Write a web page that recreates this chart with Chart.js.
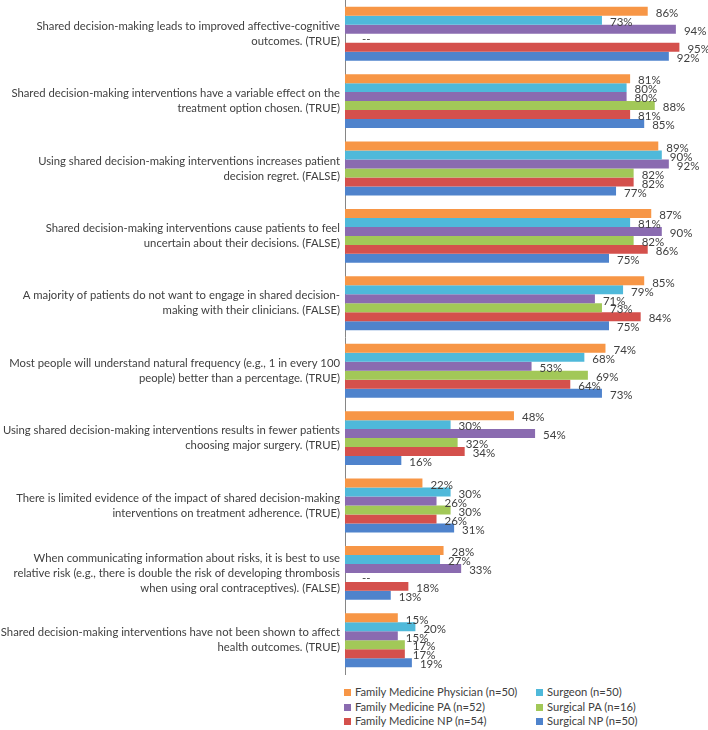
<!DOCTYPE html>
<html>
<head>
<meta charset="utf-8">
<script src="https://cdn.jsdelivr.net/npm/chart.js@4.4.1/dist/chart.umd.min.js"></script>
<style>
  html, body { margin: 0; padding: 0; background: #fff; }
  #wrap { position: relative; width: 708px; height: 677px; }
  #legend {
    position: absolute; left: 344px; top: 685px;
    display: grid; grid-template-columns: 192px 170px;
    font-family: Lato, "Open Sans", sans-serif; font-size: 11.2px; color: #404040;
  }
  #legend div { height: 14.5px; line-height: 14.5px; white-space: nowrap; }
  #legend span.box { display: inline-block; width: 7px; height: 7px; margin-right: 4px; vertical-align: 0px; }
</style>
</head>
<body>
<div id="wrap"><canvas id="chart"></canvas></div>
<div id="legend"></div>
<script>
// statements (y-axis categories), line breaks as in the figure
const statements = [
  ['Shared decision-making leads to improved affective-cognitive', 'outcomes. (TRUE)'],
  ['Shared decision-making interventions have a variable effect on the', 'treatment option chosen. (TRUE)'],
  ['Using shared decision-making interventions increases patient', 'decision regret. (FALSE)'],
  ['Shared decision-making interventions cause patients to feel', 'uncertain about their decisions. (FALSE)'],
  ['A majority of patients do not want to engage in shared decision-', 'making with their clinicians. (FALSE)'],
  ['Most people will understand natural frequency (e.g., 1 in every 100', 'people) better than a percentage. (TRUE)'],
  ['Using shared decision-making interventions results in fewer patients', 'choosing major surgery. (TRUE)'],
  ['There is limited evidence of the impact of shared decision-making', 'interventions on treatment adherence. (TRUE)'],
  ['When communicating information about risks, it is best to use', 'relative risk (e.g., there is double the risk of developing thrombosis', 'when using oral contraceptives). (FALSE)'],
  ['Shared decision-making interventions have not been shown to affect', 'health outcomes. (TRUE)']
];

const groupNames = [
  'Family Medicine Physician (n=50)',
  'Surgeon (n=50)',
  'Family Medicine PA (n=52)',
  'Surgical PA (n=16)',
  'Family Medicine NP (n=54)',
  'Surgical NP (n=50)'
];

// percent correct, null = not asked ("--")
const famMedPhysician = [86, 81, 89, 87, 85, 74, 48, 22, 28, 15];
const surgeon         = [73, 80, 90, 81, 79, 68, 30, 30, 27, 20];
const famMedPA        = [94, 80, 92, 90, 71, 53, 54, 26, 33, 15];
const surgicalPA      = [null, 88, 82, 82, 73, 69, 32, 30, null, 17];
const famMedNP        = [95, 81, 82, 86, 84, 64, 34, 26, 18, 17];
const surgicalNP      = [92, 85, 77, 75, 75, 73, 16, 31, 13, 19];

const colors = ['#f79646', '#4fb9da', '#8a6bb0', '#a2c858', '#d4504c', '#4f83cc'];
const seriesValues = [famMedPhysician, surgeon, famMedPA, surgicalPA, famMedNP, surgicalNP];

const FONT = 'Lato, "Open Sans", sans-serif';

// percent labels next to each bar
const valueLabels = {
  id: 'valueLabels',
  afterDatasetsDraw(chart) {
    const ctx = chart.ctx;
    ctx.save();
    ctx.font = '11.5px ' + FONT;
    ctx.fillStyle = '#404040';
    ctx.textBaseline = 'middle';
    ctx.textAlign = 'left';
    chart.data.datasets.forEach((ds, i) => {
      const meta = chart.getDatasetMeta(i);
      meta.data.forEach((bar, j) => {
        const v = ds.data[j];
        if (v === null) {
          ctx.fillText('--', chart.chartArea.left + 17, bar.y + 1);
        } else {
          ctx.fillText(v + '%', bar.x + 8, bar.y + 2);
        }
      });
    });
    ctx.restore();
  }
};

const chart = new Chart(document.getElementById('chart'), {
  type: 'bar',
  data: {
    labels: statements,
    datasets: groupNames.map((name, i) => ({
      label: name,
      data: seriesValues[i],
      backgroundColor: colors[i],
      borderWidth: 0,
      categoryPercentage: 0.8,
      barPercentage: 1.0
    }))
  },
  options: {
    indexAxis: 'y',
    responsive: true,
    maintainAspectRatio: false,
    animation: false,
    layout: { padding: { left: 0, right: 11, top: 0, bottom: 3 } },
    plugins: {
      legend: { display: false },
      tooltip: { enabled: false }
    },
    scales: {
      x: {
        display: false,
        min: 0,
        max: 100
      },
      y: {
        grid: { display: false, drawTicks: false },
        border: { display: true, color: '#868686', width: 1 },
        afterFit: function(scale) {
          scale.width = 345;
          scale.paddingTop = 0;
          scale.paddingBottom = 0;
        },
        ticks: {
          padding: 5,
          color: '#404040',
          font: { family: FONT, size: 11.3, lineHeight: 1.33 }
        }
      }
    }
  },
  plugins: [valueLabels]
});

// two-column legend, row-major like the original
const legend = document.getElementById('legend');
groupNames.forEach((name, i) => {
  const item = document.createElement('div');
  const box = document.createElement('span');
  box.className = 'box';
  box.style.background = colors[i];
  item.appendChild(box);
  item.appendChild(document.createTextNode(name));
  legend.appendChild(item);
});
</script>
</body>
</html>
